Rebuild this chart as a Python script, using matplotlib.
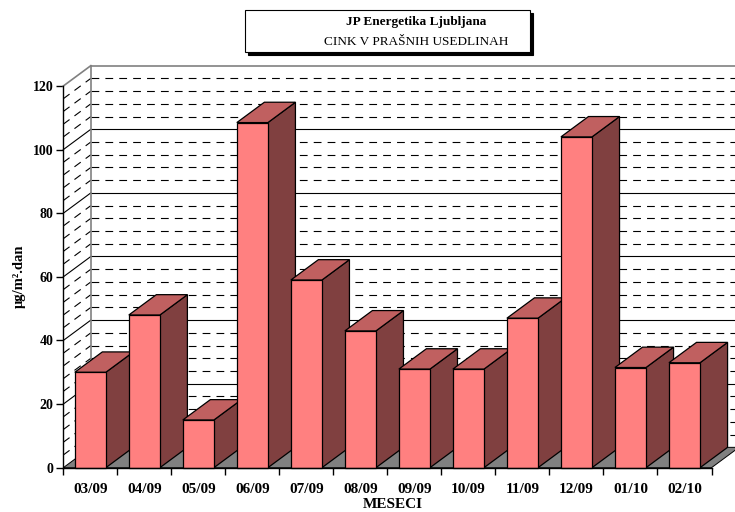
import matplotlib
matplotlib.use("Agg")
import matplotlib.pyplot as plt
from matplotlib.patches import Polygon, Rectangle
import numpy as np

# ---------------- data ----------------
months = ["03/09", "04/09", "05/09", "06/09", "07/09", "08/09",
          "09/09", "10/09", "11/09", "12/09", "01/10", "02/10"]
values = [30, 48, 15, 108.5, 59, 43, 31, 31, 47, 104, 31.5, 33]
y_ticks = [0, 20, 40, 60, 80, 100, 120]
title_line1 = "JP Energetika Ljubljana"
title_line2 = "CINK V PRAŠNIH USEDLINAH"
y_label = "μg/m².dan"
x_label = "MESECI"

# ---------------- style ----------------
plt.rcParams['font.family'] = ['Liberation Serif', 'DejaVu Serif']
FRONT = "#FF8080"
SIDE = "#804040"
TOP = "#C06060"
FLOOR = "#808080"
WALLEDGE = "#808080"

W = 0.575       # bar width (category units)
DX = 0.51       # depth offset in x (category units)
DY = 6.4        # depth offset in y (value units)
YMAX = 120
n = len(months)

fig = plt.figure(figsize=(7.35, 5.12), dpi=100)
ax = fig.add_axes([63.3 / 735, 44.3 / 512, 648.2 / 735, 381.7 / 512])
ax.set_xlim(0, n)
ax.set_ylim(0, YMAX)
ax.patch.set_visible(False)

# back wall
ax.add_patch(Polygon([(DX, DY), (n + DX, DY), (n + DX, YMAX + DY), (DX, YMAX + DY)],
                     closed=True, facecolor="white", edgecolor="none",
                     clip_on=False, zorder=1))
# left wall
ax.add_patch(Polygon([(0, 0), (DX, DY), (DX, YMAX + DY), (0, YMAX)],
                     closed=True, facecolor="white", edgecolor="none",
                     clip_on=False, zorder=1))

# gridlines on back and left walls
minor_step = 4
for v in np.arange(minor_step, YMAX, minor_step):
    if v % 20 == 0:
        kw = dict(color="black", lw=0.8, ls="-")
    else:
        kw = dict(color="black", lw=0.8, dashes=(7, 5.5))
    ax.plot([DX, n + DX], [v + DY, v + DY], clip_on=False, zorder=2, **kw)
    ax.plot([0, DX], [v, v + DY], clip_on=False, zorder=2, **kw)

# wall edges
ax.plot([DX, n + DX], [YMAX + DY, YMAX + DY], color=WALLEDGE, lw=1.2, clip_on=False, zorder=3)
ax.plot([0, DX], [YMAX, YMAX + DY], color=WALLEDGE, lw=1.2, clip_on=False, zorder=3)
ax.plot([DX, DX], [DY, YMAX + DY], color=WALLEDGE, lw=1.2, clip_on=False, zorder=3)

# floor
ax.add_patch(Polygon([(0, 0), (n, 0), (n + DX, DY), (DX, DY)], closed=True,
                     facecolor=FLOOR, edgecolor="black", lw=0.7,
                     clip_on=False, zorder=4))

# bars (front faces via ax.bar, depth faces computed from the same values)
centers = np.arange(n) + 0.5
bars = ax.bar(centers, values, width=W, color=FRONT, edgecolor="black",
              linewidth=0.9)
for i, (patch, v) in enumerate(zip(bars.patches, values)):
    x0 = centers[i] - W / 2
    x1 = centers[i] + W / 2
    base = 10 + 3 * i
    patch.set_zorder(base + 2)
    patch.set_clip_on(False)
    side = Polygon([(x1, 0), (x1 + DX, DY), (x1 + DX, v + DY), (x1, v)], closed=True,
                   facecolor=SIDE, edgecolor="black", lw=0.9, clip_on=False,
                   zorder=base)
    top = Polygon([(x0, v), (x1, v), (x1 + DX, v + DY), (x0 + DX, v + DY)], closed=True,
                  facecolor=TOP, edgecolor="black", lw=0.9, clip_on=False,
                  zorder=base + 1)
    ax.add_patch(side)
    ax.add_patch(top)

# axes / ticks
for s in ["top", "right"]:
    ax.spines[s].set_visible(False)
ax.spines["left"].set_linewidth(1.0)
ax.spines["bottom"].set_linewidth(1.0)
ax.spines["left"].set_zorder(60)
ax.spines["bottom"].set_zorder(60)

ax.set_yticks(y_ticks)
ax.set_yticklabels([str(t) for t in y_ticks], fontweight="bold", fontsize=10)
ax.tick_params(axis="y", direction="out", length=5, width=1, pad=2)

ax.set_xticks(np.arange(n + 1))
ax.set_xticklabels([])
ax.set_xticks(centers, minor=True)
ax.set_xticklabels(months, minor=True, fontweight="bold", fontsize=11)
ax.tick_params(axis="x", which="major", direction="out", length=5, width=1)
ax.tick_params(axis="x", which="minor", length=0, pad=11)

fig.text(19 / 735, 1 - 276.7 / 512, y_label, rotation=90, ha="center", va="center",
         fontweight="bold", fontsize=10.5)
fig.text(393 / 735, 1 - 504 / 512, x_label, ha="center", va="center",
         fontweight="bold", fontsize=11)

# title box with shadow
bx0, by0, bx1, by1 = 245, 10, 530, 52
fig.patches.append(Rectangle(((bx0 + 3) / 735, 1 - (by1 + 3) / 512),
                             (bx1 - bx0) / 735, (by1 - by0) / 512,
                             transform=fig.transFigure, facecolor="black",
                             edgecolor="black", lw=0.8, zorder=1))
fig.patches.append(Rectangle((bx0 / 735, 1 - by1 / 512),
                             (bx1 - bx0) / 735, (by1 - by0) / 512,
                             transform=fig.transFigure, facecolor="white",
                             edgecolor="black", lw=0.8, zorder=2))
fig.text(416.5 / 735, 1 - 21.7 / 512, title_line1, ha="center", va="center",
         fontweight="bold", fontsize=9.5, zorder=3)
fig.text(416 / 735, 1 - 41.7 / 512, title_line2, ha="center", va="center",
         fontsize=9.5, zorder=3)

fig.savefig("out.png", dpi=100)
